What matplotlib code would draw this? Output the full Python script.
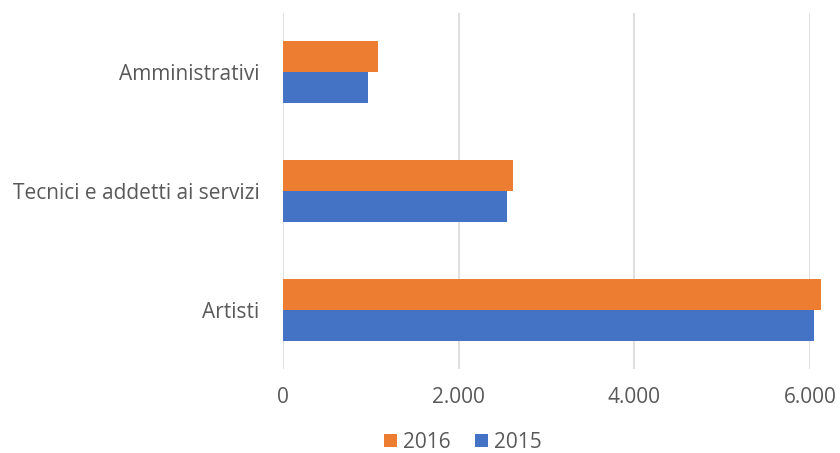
"""
Horizontal grouped bars: staff by category, 2015 vs 2016.
"""

import matplotlib

matplotlib.use("Agg")
import matplotlib.pyplot as plt  # noqa: E402
import numpy as np
from matplotlib.ticker import FuncFormatter

categories = ["Artisti", "Tecnici e addetti ai servizi", "Amministrativi"]
values_2015 = [6046, 2550, 968]
values_2016 = [6126, 2619, 1082]
x_ticks = [0, 2000, 4000, 6000]

ORANGE = "#ED7D31"
BLUE = "#4472C4"
TEXT = "#595959"

plt.rcParams["font.family"] = ["Open Sans", "DejaVu Sans"]

fig = plt.figure(figsize=(8.4, 4.53), dpi=100)
ax = fig.add_axes([283 / 840, 1 - 369 / 453, (810 - 283) / 840, 356 / 453])

y = np.arange(len(categories))
h = 0.26
ax.barh(y - h / 2, values_2015, height=h, color=BLUE, label="2015", clip_on=False, zorder=3)
ax.barh(y + h / 2, values_2016, height=h, color=ORANGE, label="2016", clip_on=False, zorder=3)

ax.set_xlim(0, 6000)
ax.set_ylim(-0.5, 2.5)
ax.set_xticks(x_ticks)
ax.xaxis.set_major_formatter(FuncFormatter(lambda v, _: f"{int(v):,}".replace(",", ".")))
ax.set_yticks(y)
ax.set_yticklabels(categories)
ax.tick_params(axis="both", length=0, labelsize=15, labelcolor=TEXT)
ax.tick_params(axis="y", pad=17)
ax.tick_params(axis="x", pad=13)
ax.grid(axis="x", color="#D9D9D9", linewidth=1.2, zorder=0)
for s in ax.spines.values():
    s.set_visible(False)

handles, labels = ax.get_legend_handles_labels()
fig.legend(handles[::-1], labels[::-1], loc="center", bbox_to_anchor=(463 / 840, 1 - 442 / 453),
           ncol=2, frameon=False, fontsize=15, labelcolor=TEXT,
           handlelength=0.6, handleheight=0.6, handletextpad=0.3, columnspacing=1.2)

fig.savefig("out.png", dpi=100)
plt.close(fig)
